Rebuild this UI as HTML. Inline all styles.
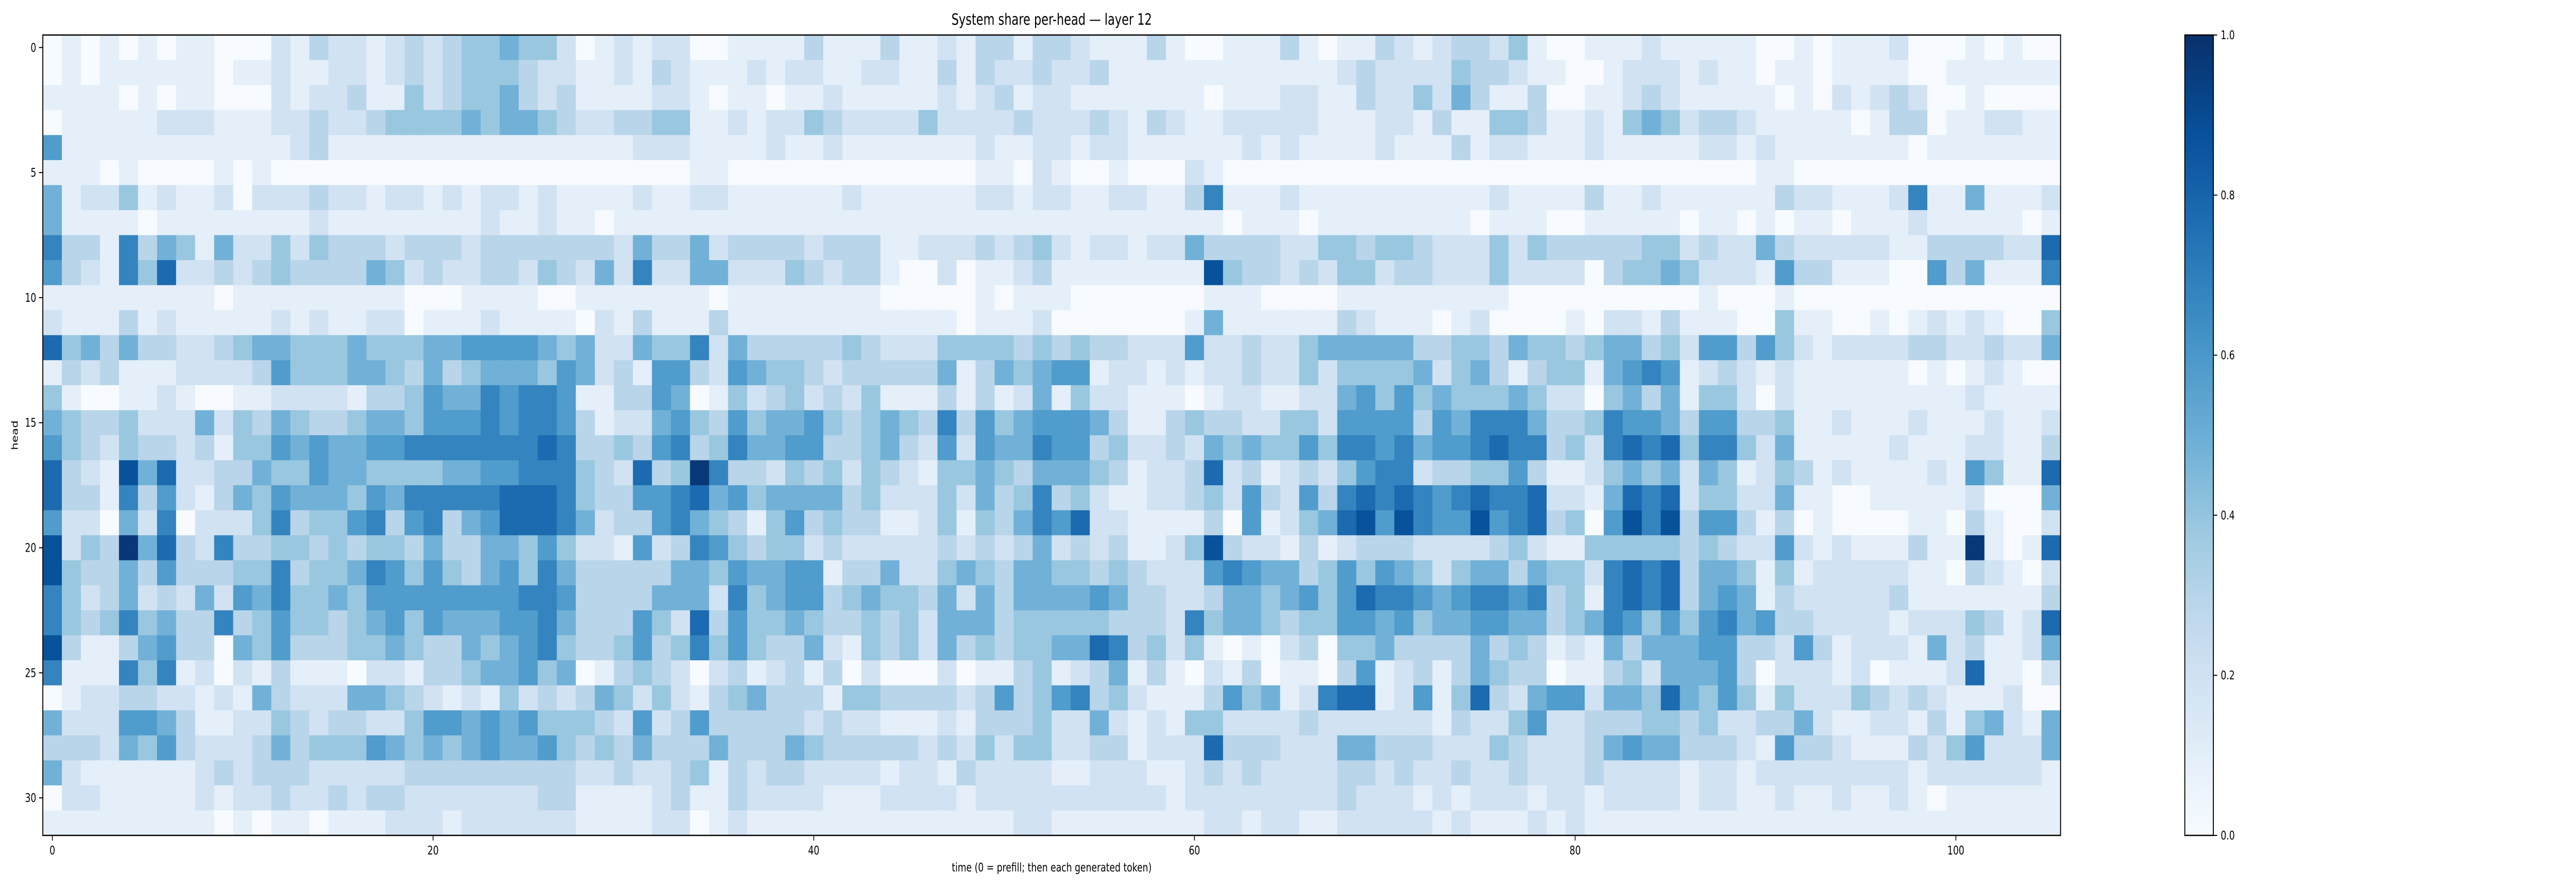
<!DOCTYPE html>
<html><head><meta charset="utf-8"><style>
html,body{margin:0;padding:0;background:#fff;width:100%;height:100%;overflow:hidden;}
#chart{display:block;width:100vw;height:100vh;}
svg text{font-family:"DejaVu Sans","Liberation Sans",sans-serif;fill:#000;}
</style></head>
<body>
<svg id="chart" xmlns="http://www.w3.org/2000/svg" viewBox="0 0 6677 1728" preserveAspectRatio="none">
<text x="2726" y="48" font-size="30" text-anchor="middle">System share per-head — layer 12</text>
<g id="cells"></g>
<rect x="111" y="68" width="5230" height="1554" fill="none" stroke="#000" stroke-width="2.5"/>
<g id="xaxis"></g>
<g id="yaxis"></g>
<text x="2726" y="1692" font-size="23" text-anchor="middle">time (0 = prefill; then each generated token)</text>
<text transform="translate(46,845) rotate(-90)" font-size="23" text-anchor="middle">head</text>
<defs><linearGradient id="cbgrad" x1="0" y1="1" x2="0" y2="0">
<stop offset="0" stop-color="#f7fbff"/><stop offset="0.125" stop-color="#deebf7"/><stop offset="0.25" stop-color="#c6dbef"/><stop offset="0.375" stop-color="#9ecae1"/><stop offset="0.5" stop-color="#6baed6"/><stop offset="0.625" stop-color="#4292c6"/><stop offset="0.75" stop-color="#2171b5"/><stop offset="0.875" stop-color="#08519c"/><stop offset="1" stop-color="#08306b"/>
</linearGradient></defs>
<rect x="5663" y="68" width="74" height="1554" fill="url(#cbgrad)" stroke="#000" stroke-width="2.5"/>
<g id="cbaxis"></g>
</svg>
<script>
const xTicks = [0, 20, 40, 60, 80, 100];
const yTicks = [0, 5, 10, 15, 20, 25, 30];
const cbTicks = [0.0, 0.2, 0.4, 0.6, 0.8, 1.0];
const cbTickLabels = ["0.0", "0.2", "0.4", "0.6", "0.8", "1.0"];
const nSteps = 106;
const nHeads = 32;
// share values in tenths, one array per head (rows), columns = time steps 0..105
const shareTenths = [
[0,1,0,1,0,1,0,1,1,0,0,0,2,1,3,2,2,1,2,3,2,3,4,4,5,4,4, 2,0,1,2,1,2,2,0,0,1,1,1,1,3,1,1,1,3,1,1,2,1,3,3,1,3,3, 2,1,1,1,3,1,0,0,1,1,1,3,1,0,1,1,3,2,1,2,3,3,2,4,1,0,0, 1,1,1,2,1,1,1,1,1,0,0,1,0,1,1,1,2,0,0,0,1,0,1,0,0],
[0,1,0,1,1,1,1,1,1,0,1,1,2,1,1,2,2,1,2,3,2,3,4,4,4,3,2, 2,1,1,2,1,3,2,1,1,1,2,1,2,2,1,1,2,2,1,1,3,1,3,2,2,3,2, 2,3,1,1,1,1,1,1,1,1,1,1,1,1,2,3,2,2,2,2,4,3,3,2,1,1,0, 0,1,2,2,2,1,2,1,1,0,1,1,0,1,1,1,1,0,0,1,1,1,1,1,1],
[1,1,1,1,0,1,0,1,1,0,0,0,2,1,2,2,3,1,1,4,2,3,4,4,5,3,2, 3,1,1,1,1,2,2,1,0,1,1,0,1,1,2,1,1,1,1,1,2,1,2,3,1,2,2, 1,1,1,1,1,1,1,0,1,1,1,2,2,1,1,3,2,2,4,2,5,3,1,1,3,0,0, 1,1,2,3,2,1,1,1,1,1,0,1,0,2,1,2,3,2,0,0,1,0,0,0,0],
[0,1,1,1,1,1,2,2,2,1,1,1,2,2,3,2,2,3,4,4,4,4,5,4,5,5,4, 3,2,2,3,3,4,4,1,1,2,1,2,2,4,3,2,2,2,2,4,2,2,2,2,3,2,2, 2,3,2,1,3,2,1,1,2,2,2,2,2,1,1,1,2,2,1,3,1,1,4,4,3,1,1, 2,1,4,5,4,2,3,3,2,1,1,1,1,1,0,1,3,3,0,1,1,2,2,1,1],
[6,1,1,1,1,1,1,1,1,1,1,1,1,2,3,1,1,1,1,1,1,1,1,1,1,1,1, 1,1,1,1,2,2,2,1,1,1,1,2,1,1,2,1,1,1,1,1,1,1,2,1,1,2,2, 1,2,2,1,1,1,1,1,1,2,1,2,1,1,1,1,2,1,1,1,3,1,2,2,1,1,1, 2,1,1,1,1,1,2,2,1,2,1,1,1,1,1,1,1,0,1,1,1,1,1,1,1],
[1,1,1,0,1,0,0,0,0,1,0,1,0,0,0,0,0,0,0,0,0,0,0,0,0,0,0, 0,0,0,0,0,0,0,1,1,0,0,0,0,0,0,0,0,0,0,0,0,0,1,1,0,2,1, 0,0,1,0,0,0,2,1,0,0,0,0,0,0,0,0,0,0,0,0,0,0,0,0,0,0,0, 0,0,0,0,0,0,0,0,0,1,1,0,0,0,0,0,0,0,0,0,0,0,0,0,0],
[5,1,2,2,4,1,2,1,1,2,0,2,2,2,3,2,2,1,2,2,1,2,1,2,2,1,2, 1,1,1,1,2,1,1,2,2,1,1,1,1,1,1,2,1,1,1,1,1,1,2,2,1,2,2, 1,1,2,2,1,1,3,7,1,1,1,2,1,1,1,1,1,1,1,1,1,1,2,1,1,1,1, 3,1,1,2,1,1,1,1,1,1,3,2,2,1,1,1,2,7,1,1,5,1,1,1,2],
[5,1,1,1,1,0,1,1,1,1,1,1,1,1,2,1,1,1,1,1,1,1,1,2,1,1,2, 1,1,0,1,1,1,1,1,1,1,1,1,1,1,1,1,1,1,1,1,1,1,1,1,1,1,1, 1,1,1,1,1,1,1,1,0,1,1,1,0,1,1,1,1,1,1,1,1,0,1,1,1,0,0, 1,1,1,1,1,0,1,1,0,1,0,1,1,0,1,1,1,2,1,1,1,1,1,0,1],
[7,3,3,1,7,3,5,4,1,5,2,2,4,2,4,3,3,3,2,3,3,3,2,3,3,3,3, 3,3,3,2,5,3,3,5,2,3,3,3,3,2,3,3,3,1,1,2,2,2,3,2,3,4,2, 1,2,2,1,2,2,5,3,3,3,3,2,2,4,4,3,4,4,3,2,2,2,4,2,4,3,3, 3,3,3,4,4,2,3,2,2,5,3,2,2,2,2,2,1,1,3,3,3,3,2,2,8],
[6,3,2,1,7,4,8,2,2,3,2,3,4,3,3,3,3,5,4,2,3,2,2,3,3,2,4, 3,2,5,2,7,2,2,5,5,2,2,2,4,3,2,3,3,1,0,0,2,0,1,1,2,3,1, 1,1,1,1,1,1,1,9,4,3,3,2,3,2,4,4,2,3,3,2,2,2,4,2,2,2,2, 0,3,4,4,5,4,2,2,2,1,6,3,3,1,1,1,0,0,6,3,5,1,1,1,7],
[1,1,1,1,1,1,1,1,1,0,1,1,1,1,1,1,1,1,1,0,0,0,1,1,1,1,0, 0,1,1,1,1,1,1,1,0,1,1,1,1,1,1,1,1,0,0,0,0,0,1,0,1,1,1, 0,0,0,0,0,0,0,1,1,1,0,0,0,0,1,1,1,1,1,1,1,1,1,0,0,0,0, 0,0,0,0,0,0,1,0,0,0,1,0,0,0,0,0,0,0,0,0,0,0,0,0,0],
[2,1,1,1,3,1,2,1,1,1,1,1,2,1,2,1,1,2,2,0,1,1,1,2,1,1,1, 1,0,2,1,3,1,1,1,3,1,1,1,1,1,1,1,1,1,1,1,1,0,1,1,1,2,0, 0,0,0,0,0,0,1,5,1,1,1,1,1,1,3,2,1,1,1,0,1,2,0,0,0,0,1, 0,2,2,1,3,1,1,1,0,0,4,1,1,0,0,1,0,1,2,1,2,1,0,0,4],
[8,4,5,3,5,3,3,2,2,3,4,5,5,4,4,4,5,4,4,4,5,5,6,6,6,6,5, 4,5,2,2,5,4,4,7,2,5,3,3,3,3,3,4,3,2,2,2,4,4,4,4,3,4,3, 4,3,3,2,2,2,6,2,2,3,2,2,4,5,5,5,5,5,3,3,4,4,3,5,4,4,3, 4,5,5,3,4,2,6,6,3,6,4,2,1,2,2,2,2,3,3,2,2,3,2,2,5],
[1,3,2,3,1,1,1,2,2,2,2,3,6,4,4,4,5,5,4,3,5,3,4,5,5,5,4, 6,5,2,3,1,6,6,3,2,6,5,4,4,3,2,3,3,3,3,3,5,1,3,5,4,5,6, 6,1,2,2,1,2,1,2,2,3,2,2,4,2,4,4,4,4,5,2,4,5,3,1,3,4,4, 1,5,6,7,6,1,2,3,2,1,2,1,1,1,1,1,1,0,1,0,1,2,1,0,0],
[4,1,0,0,1,1,2,1,0,0,1,1,2,2,2,2,1,3,3,4,6,5,5,7,6,7,7, 6,1,1,3,3,6,5,0,1,4,2,3,4,2,3,2,4,1,1,1,3,1,3,1,2,5,1, 4,2,2,1,1,1,0,1,2,2,1,1,2,2,5,6,4,6,4,5,4,4,4,5,4,2,2, 0,4,5,3,5,1,4,4,2,0,2,1,1,1,1,1,1,1,1,1,2,1,1,1,1],
[5,4,3,3,4,2,2,2,5,2,4,3,5,4,3,3,4,5,5,4,6,6,6,7,6,7,7, 6,3,1,2,2,5,6,4,3,6,4,5,5,6,4,3,4,5,4,3,7,3,6,4,5,6,6, 6,5,3,1,1,3,4,3,3,2,2,4,4,2,6,6,6,6,3,6,5,7,7,7,5,3,3, 4,7,6,6,5,3,6,6,3,3,4,1,1,2,1,1,1,2,1,1,1,2,1,1,2],
[6,4,3,2,4,3,3,2,3,1,4,4,6,5,6,5,5,6,6,7,7,7,7,7,7,7,8, 7,3,3,4,3,6,7,3,4,7,5,5,6,6,3,3,4,5,3,2,6,2,6,5,5,7,6, 6,3,4,2,2,3,2,5,4,5,4,4,6,4,7,7,6,7,5,6,6,7,8,7,7,3,4, 2,7,8,7,8,4,7,7,4,2,5,1,1,1,1,1,2,1,1,1,2,2,1,1,3],
[8,3,2,1,9,5,8,2,2,3,3,5,4,4,6,5,5,4,4,4,4,5,5,6,6,7,7, 7,4,3,2,8,3,4,10,7,3,3,2,4,3,4,2,4,3,2,1,4,4,5,4,3,5,5, 5,4,3,1,2,2,3,8,2,3,1,2,3,2,4,6,7,7,2,3,3,4,4,6,3,1,1, 2,4,5,4,5,2,5,4,1,2,4,3,1,2,1,1,1,1,2,1,6,4,1,1,8],
[8,3,3,1,7,3,6,2,1,3,5,4,6,5,5,5,4,6,5,7,7,7,7,7,8,8,8, 7,4,3,3,6,6,7,8,5,6,4,5,5,5,5,3,4,2,2,2,4,2,5,3,4,7,3, 4,2,1,1,2,2,3,4,2,6,3,2,6,3,7,8,7,8,7,6,7,8,7,7,8,2,2, 1,5,8,7,8,2,4,4,2,2,5,1,1,0,0,1,1,1,1,1,2,0,0,0,5],
[6,2,2,0,5,2,7,0,2,2,2,4,7,3,4,4,6,7,3,6,7,3,5,6,8,8,8, 7,5,2,3,3,6,7,5,4,3,1,4,6,3,4,3,3,1,1,2,4,1,4,3,5,7,6, 8,2,2,1,1,1,1,3,0,6,1,2,4,5,8,9,6,9,7,6,6,9,6,7,8,3,4, 0,6,9,7,9,3,6,6,3,1,3,0,1,0,0,0,0,1,1,0,3,1,0,0,2],
[9,2,4,3,10,5,8,3,2,7,3,3,4,4,3,4,3,4,4,3,5,3,3,5,5,4,6, 4,2,2,1,6,2,3,7,6,4,3,4,4,2,3,2,2,2,2,2,3,2,3,2,3,5,2, 3,2,3,1,1,2,4,9,3,2,2,1,3,1,2,3,3,3,2,2,2,2,3,4,2,1,1, 4,4,4,4,4,3,4,3,2,2,6,2,1,2,1,1,1,3,1,1,10,1,0,1,8],
[9,4,3,3,5,3,6,3,3,3,4,4,7,3,4,4,5,7,6,4,6,4,3,5,6,4,7, 5,3,3,3,3,3,5,5,4,6,5,5,6,6,1,3,3,5,2,2,4,5,4,3,5,5,4, 4,3,4,3,2,2,2,6,7,6,5,5,3,4,6,4,6,5,4,2,4,5,5,3,5,4,4, 2,7,8,7,8,3,5,5,4,1,4,1,2,2,2,2,2,1,1,0,3,2,1,0,2],
[7,4,2,3,5,2,3,2,5,2,6,5,7,4,4,5,4,6,6,6,6,6,6,6,6,7,7, 6,3,3,3,3,5,5,5,2,7,4,5,6,6,3,4,5,4,4,3,5,2,5,3,5,5,5, 5,6,5,3,3,2,2,3,5,5,4,5,6,4,6,8,7,7,6,5,6,7,7,6,7,3,4, 1,7,8,7,8,3,5,6,5,1,3,2,2,2,2,2,3,1,1,1,1,1,1,1,3],
[7,4,3,4,7,4,5,3,3,7,3,4,6,4,4,3,4,5,6,4,6,5,5,5,6,6,7, 5,3,3,3,6,4,2,8,3,6,4,4,5,4,3,3,4,3,4,2,5,5,5,3,4,4,4, 4,4,3,3,3,2,7,4,5,5,4,3,4,4,6,6,5,6,4,5,5,6,6,5,5,3,4, 5,7,6,4,6,4,6,7,5,6,3,3,2,2,2,2,1,2,2,2,4,3,1,2,8],
[9,3,1,1,3,5,6,3,3,0,5,4,6,3,3,3,4,4,5,4,3,3,5,4,5,6,7, 4,3,3,4,6,3,4,7,4,6,4,3,3,5,2,1,4,3,4,2,5,3,4,3,4,4,5, 5,8,7,3,4,2,4,1,0,1,0,2,3,0,4,4,5,3,3,3,3,5,3,4,3,1,2, 1,5,3,5,5,5,6,6,3,3,2,6,3,1,2,2,2,1,5,2,3,1,1,2,5],
[7,1,1,1,7,4,7,1,2,0,2,1,3,1,1,1,0,2,2,1,3,3,4,5,5,6,4, 5,0,1,3,4,3,2,0,2,3,1,2,3,1,3,0,2,0,0,0,2,0,1,1,3,4,1, 2,3,5,1,3,1,0,2,1,3,0,1,1,0,3,6,1,2,3,1,3,5,4,3,3,0,1, 1,3,4,2,5,5,5,6,3,0,2,2,2,1,2,0,1,1,1,2,8,1,1,0,2],
[0,1,2,2,3,3,2,2,1,2,1,5,3,2,2,2,5,5,4,3,2,1,2,1,4,2,3, 2,3,5,4,2,4,2,1,3,4,5,3,3,3,1,4,4,3,3,3,3,2,3,6,3,4,6, 7,3,4,2,1,1,1,3,6,4,5,1,2,7,8,8,1,2,6,1,4,8,3,2,5,6,6, 2,5,5,4,8,5,4,6,4,1,4,2,2,2,4,3,2,3,2,1,1,1,2,0,0],
[5,2,2,2,6,6,5,3,1,1,2,2,4,3,2,3,3,2,2,4,6,6,5,6,5,6,4, 4,4,3,2,6,2,3,6,3,3,3,3,3,2,3,2,2,1,1,1,2,1,3,3,3,4,2, 2,5,2,1,2,1,4,4,2,2,2,2,3,2,2,2,2,2,2,1,3,2,2,4,6,2,2, 3,3,3,4,4,3,4,2,2,3,3,5,2,1,1,2,2,1,3,1,4,5,2,1,5],
[3,3,3,2,5,4,6,3,2,2,2,3,5,3,4,4,4,6,5,4,5,4,5,6,5,5,6, 4,3,4,3,5,3,3,3,5,3,3,3,5,4,3,3,3,3,3,2,3,2,4,2,4,4,2, 2,3,3,1,2,2,2,8,3,3,3,2,2,2,5,5,3,3,3,2,2,2,4,3,2,2,2, 3,5,6,5,5,3,3,3,2,1,6,3,3,2,1,1,1,3,2,4,6,2,2,2,5],
[5,2,1,1,1,1,1,1,2,3,2,3,3,3,2,2,2,2,2,3,3,3,3,3,3,3,3, 3,2,2,3,2,2,3,4,1,3,2,3,3,2,2,2,2,1,2,2,1,3,2,2,2,2,1, 1,2,2,2,1,1,2,3,2,3,2,2,2,2,3,3,2,3,2,2,3,2,2,3,2,2,2, 3,2,2,2,2,1,2,2,1,2,2,2,2,2,2,2,2,1,2,2,2,2,2,2,1],
[0,2,2,1,1,1,1,1,2,1,2,2,3,2,2,3,2,3,3,2,2,2,2,2,2,2,3, 3,1,1,1,1,2,3,1,1,3,2,2,2,2,1,1,1,2,2,2,2,1,2,2,2,2,2, 2,2,2,2,2,1,2,2,2,2,2,2,2,2,3,2,2,2,1,2,1,2,2,2,1,2,2, 1,2,2,2,2,1,2,2,1,1,2,1,1,2,1,1,2,1,0,1,1,1,1,1,1],
[1,1,1,1,1,1,1,1,1,0,1,0,1,1,0,1,1,1,2,2,2,1,2,2,2,2,2, 2,1,1,1,1,2,2,0,1,2,1,1,1,1,1,1,1,1,1,1,1,1,1,1,2,2,1, 1,1,1,1,1,1,1,2,2,1,2,2,1,1,2,2,2,2,2,1,2,1,1,1,2,1,2, 1,1,1,1,1,1,1,1,1,1,1,1,1,1,1,1,1,1,1,1,1,1,1,1,1]
];

const NS = "http://www.w3.org/2000/svg";
const plot = {x0: 111, x1: 5341, y0: 68, y1: 1622};
const cellW = (plot.x1 - plot.x0) / nSteps;
const cellH = (plot.y1 - plot.y0) / nHeads;
function xScale(step) { return plot.x0 + step * cellW; }
function yScale(head) { return plot.y0 + head * cellH; }
function cbScale(v) { return 1622 - v * (1622 - 68); }
const stops = [[247,251,255],[222,235,247],[198,219,239],[158,202,225],[107,174,214],[66,146,198],[33,113,181],[8,81,156],[8,48,107]];
function blues(v) {
  v = Math.max(0, Math.min(1, v));
  const t = v * 8, i = Math.min(7, Math.floor(t)), f = t - i;
  const a = stops[i], b = stops[i + 1];
  return "rgb(" + [0,1,2].map(k => Math.round(a[k] + (b[k] - a[k]) * f)).join(",") + ")";
}
function mk(tag, attrs, parent) {
  const e = document.createElementNS(NS, tag);
  for (const k in attrs) e.setAttribute(k, attrs[k]);
  parent.appendChild(e);
  return e;
}
const cells = document.getElementById("cells");
for (let h = 0; h < nHeads; h++) {
  for (let s = 0; s < nSteps; s++) {
    const v = shareTenths[h][s] / 10 * 0.97;
    const r = mk("rect", {x: xScale(s), y: yScale(h), width: cellW + 0.6, height: cellH + 0.6, fill: blues(v)}, cells);
    
    
  }
}
const xa = document.getElementById("xaxis");
xTicks.forEach(t => {
  const x = xScale(t + 0.5);
  const ln = mk("line", {x1: x, x2: x, y1: 1622, y2: 1632, stroke: "#000", "stroke-width": 2}, xa);
  
  
  const tx = mk("text", {x: x, y: 1659, "font-size": 23, "text-anchor": "middle"}, xa);
  tx.textContent = String(t);
  
  
});
const ya = document.getElementById("yaxis");
yTicks.forEach(t => {
  const y = yScale(t + 0.5);
  const ln = mk("line", {x1: 101, x2: 111, y1: y, y2: y, stroke: "#000", "stroke-width": 2}, ya);
  
  
  const tx = mk("text", {x: 94, y: y + 8, "font-size": 23, "text-anchor": "end"}, ya);
  tx.textContent = String(t);
  
  
});
const ca = document.getElementById("cbaxis");
cbTicks.forEach((t, i) => {
  const y = cbScale(t);
  const ln = mk("line", {x1: 5737, x2: 5747, y1: y, y2: y, stroke: "#000", "stroke-width": 2}, ca);
  
  
  const tx = mk("text", {x: 5756, y: y + 8, "font-size": 23, "text-anchor": "start"}, ca);
  tx.textContent = cbTickLabels[i];
  
  
});
</script>
</body></html>
